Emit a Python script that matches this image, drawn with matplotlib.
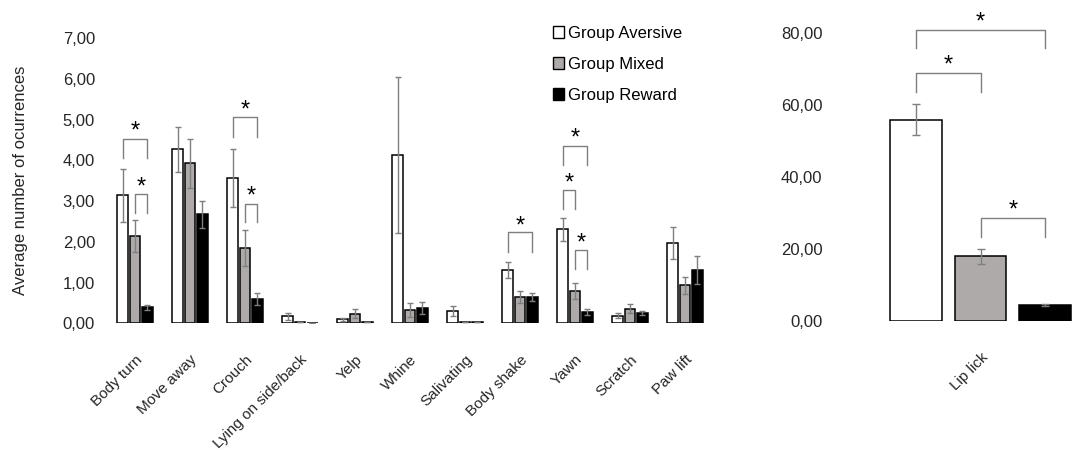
import matplotlib
matplotlib.use("Agg")
import matplotlib.pyplot as plt
import numpy as np
from matplotlib.patches import Patch
from matplotlib.ticker import FuncFormatter

plt.rcParams["font.family"] = ["Liberation Sans", "DejaVu Sans"]
plt.rcParams["font.size"] = 12

# Behaviours in the left panel
behaviours = ["Body turn", "Move away", "Crouch", "Lying on side/back", "Yelp",
              "Whine", "Salivating", "Body shake", "Yawn", "Scratch", "Paw lift"]

aversive = [3.14, 4.27, 3.56, 0.17, 0.10, 4.13, 0.30, 1.30, 2.31, 0.19, 1.97]
aversive_err = [0.65, 0.56, 0.71, 0.09, 0.04, 1.91, 0.13, 0.20, 0.28, 0.06, 0.40]
mixed = [2.14, 3.93, 1.84, 0.02, 0.24, 0.33, 0.03, 0.65, 0.80, 0.36, 0.93]
mixed_err = [0.39, 0.60, 0.44, 0.00, 0.11, 0.17, 0.01, 0.14, 0.20, 0.11, 0.21]
reward = [0.39, 2.68, 0.59, 0.00, 0.02, 0.38, 0.03, 0.65, 0.28, 0.25, 1.31]
reward_err = [0.07, 0.33, 0.15, 0.00, 0.00, 0.14, 0.01, 0.10, 0.08, 0.05, 0.34]

# Lip lick (right panel)
lip_label = "Lip lick"
lip_values = [56.0, 17.9, 4.4]
lip_err = [4.3, 2.1, 0.3]

groups = ["Group Aversive", "Group Mixed", "Group Reward"]
colors = ["#FFFFFF", "#AEAAAA", "#000000"]
err_color = "#7F7F7F"
bracket_color = "#7F7F7F"
text_color = "#262626"

# Significance brackets: (category index, group a, group b, bracket top, leg bottom, star y)
left_sig = [
    (0, 0, 2, 4.52, 4.05, 4.80),
    (0, 1, 2, 3.18, 2.72, 3.44),
    (2, 0, 2, 5.06, 4.58, 5.34),
    (2, 1, 2, 2.93, 2.48, 3.22),
    (7, 0, 2, 2.23, 1.76, 2.47),
    (8, 0, 2, 4.36, 3.89, 4.63),
    (8, 0, 1, 3.27, 2.81, 3.54),
    (8, 1, 2, 1.80, 1.33, 2.06),
]
right_sig = [
    (0, 2, 80.9, 75.9, 84.2),
    (0, 1, 68.9, 63.8, 72.1),
    (1, 2, 28.5, 23.2, 31.8),
]

comma_fmt = FuncFormatter(lambda v, p: f"{v:.2f}".replace(".", ","))
star_size = 17


def draw_bracket(axis, xa, xb, top, leg, star):
    axis.plot([xa, xa, xb, xb], [leg, top, top, leg], color=bracket_color,
              lw=1.0, clip_on=False, zorder=4)
    axis.annotate("*", xy=((xa + xb) / 2, star), xytext=(0, -3),
                  textcoords="offset points", ha="center", va="center",
                  fontsize=star_size, color="black", annotation_clip=False)


fig = plt.figure(figsize=(10.75, 4.5), dpi=100)

# ---- left panel ----
ax = fig.add_axes([0.1, 0.2816, 0.5628, 0.6333])
x = np.arange(len(behaviours))
step = 0.225
width = 0.19
series = [(aversive, aversive_err), (mixed, mixed_err), (reward, reward_err)]
for i, (vals, errs) in enumerate(series):
    ax.bar(x + (i - 1) * step, vals, width=width, color=colors[i],
           edgecolor="black", linewidth=1.1, zorder=2)
    ax.errorbar(x + (i - 1) * step, vals, yerr=errs, fmt="none",
                ecolor=err_color, elinewidth=1.0, capsize=2.5, capthick=1.0, zorder=3)

for cat, a, b, top, leg, star in left_sig:
    draw_bracket(ax, cat + (a - 1) * step, cat + (b - 1) * step, top, leg, star)

ax.set_xlim(-0.5, len(behaviours) - 0.5)
ax.set_ylim(0, 7)
ax.set_yticks(np.arange(0, 8, 1))
ax.yaxis.set_major_formatter(comma_fmt)
ax.set_xticks(x)
ax.set_xticklabels(behaviours, rotation=45, ha="right", rotation_mode="anchor")
ax.tick_params(axis="both", length=0, colors=text_color)
ax.tick_params(axis="x", pad=21, labelsize=11)
ax.tick_params(axis="y", pad=9, labelsize=12)
for s in ax.spines.values():
    s.set_visible(False)
ax.set_ylabel("Average number of ocurrences", fontsize=12, labelpad=25, color=text_color)

handles = [Patch(facecolor=c, edgecolor="black", linewidth=1.0) for c in colors]
ax.legend(handles, groups, loc="upper left", bbox_to_anchor=(0.725, 1.066),
          frameon=False, fontsize=12, handlelength=0.7, handleheight=0.7,
          handletextpad=0.2, labelspacing=0.95, borderaxespad=0)

# ---- right panel ----
ax2 = fig.add_axes([0.774, 0.2873, 0.226, 0.6387])
xr = np.array([-1, 0, 1])
ax2.bar(xr, lip_values, width=0.8, color=colors, edgecolor="black",
        linewidth=1.1, zorder=2)
ax2.errorbar(xr, lip_values, yerr=lip_err, fmt="none", ecolor=err_color,
             elinewidth=1.0, capsize=3, capthick=1.0, zorder=3)
for a, b, top, leg, star in right_sig:
    draw_bracket(ax2, xr[a], xr[b], top, leg, star)
ax2.set_xlim(-2.29, 1.457)
ax2.set_ylim(0, 80)
ax2.set_yticks([0, 20, 40, 60, 80])
ax2.yaxis.set_major_formatter(comma_fmt)
ax2.set_xticks([0])
ax2.set_xticklabels([lip_label], rotation=45, ha="right", rotation_mode="anchor")
ax2.tick_params(axis="both", length=0, colors=text_color)
ax2.tick_params(axis="x", pad=21, labelsize=11)
ax2.tick_params(axis="y", pad=7, labelsize=12)
for s in ax2.spines.values():
    s.set_visible(False)

fig.savefig("out.png", dpi=100)
